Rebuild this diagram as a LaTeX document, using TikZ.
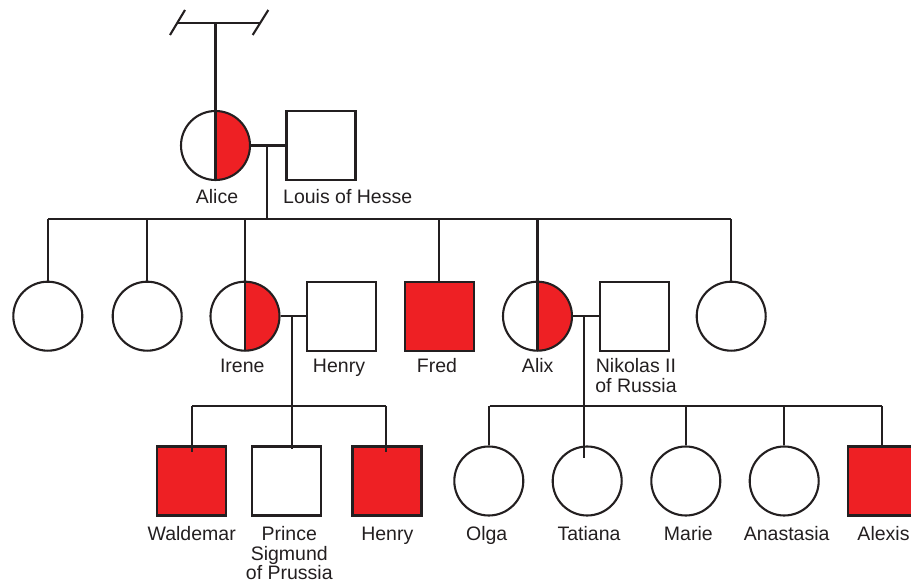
\documentclass[tikz,border=0pt]{standalone}
\usepackage{fontspec}
\setmainfont{Liberation Sans}
\definecolor{ink}{HTML}{231F20}
\definecolor{aff}{HTML}{EE2024}
\begin{document}
\begin{tikzpicture}[x=1pt,y=-1pt,
  fem/.style={circle, draw=ink, fill=white, minimum size=69pt, inner sep=0pt, line width=2.1pt},
  male/.style={rectangle, draw=ink, fill=white, minimum size=69pt, inner sep=0pt, line width=2.1pt},
  affm/.style={male, fill=aff},
  carrier/.style={fem, path picture={
      \fill[aff] (path picture bounding box.north) rectangle (path picture bounding box.south east);
      \draw[ink, line width=2.1pt] (path picture bounding box.north) -- (path picture bounding box.south);}},
  lbl/.style={anchor=base, text=ink, font=\fontsize{19.5}{19.5}\selectfont, inner sep=0pt, align=center},
  link/.style={draw=ink, line width=2.1pt}]
\useasboundingbox (0,0) rectangle (911,585);
\clip (0,0) rectangle (911,585);

% generation I
\node[carrier] (alice) at (215.5,145.5) {};
\node[male] (louis) at (321,145.5) {};
\node[lbl] (lalice) at (217,203.3) {Alice};
\node[lbl] (llouis) at (347.7,203.3) {Louis of Hesse};

% generation II
\node[fem] (s1) at (47.8,316.2) {};
\node[fem] (s2) at (147.2,316.2) {};
\node[carrier] (irene) at (245,316.2) {};
\node[male] (henry) at (341.8,316.2) {};
\node[affm] (fred) at (439.3,316.2) {};
\node[carrier] (alix) at (537.5,316.2) {};
\node[male] (niko) at (634.3,316.2) {};
\node[fem] (s8) at (731.2,316.2) {};
\node[lbl] (lirene) at (242.3,372.7) {Irene};
\node[lbl] (lhenry) at (339,372.7) {Henry};
\node[lbl] (lfred) at (437,372.7) {Fred};
\node[lbl] (lalix) at (537.7,372.7) {Alix};
\node[lbl] (lniko) at (636,392.4) {Nikolas II\\of Russia};

% generation III
\node[affm] (waldemar) at (191.3,481) {};
\node[male] (prince) at (286.7,481) {};
\node[affm] (henryjr) at (387,481) {};
\node[fem] (olga) at (488.8,481) {};
\node[fem] (tatiana) at (587.2,481) {};
\node[fem] (marie) at (685.8,481) {};
\node[fem] (anastasia) at (784.2,481) {};
\node[affm] (alexis) at (882.2,481) {};
\node[lbl] (lwaldemar) at (191.7,540.7) {Waldemar};
\node[lbl] (lprince) at (289.3,579.6) {Prince\\Sigmund\\of Prussia};
\node[lbl] (lhenryjr) at (387.3,540.7) {Henry};
\node[lbl] (lolga) at (486.7,540.7) {Olga};
\node[lbl] (ltatiana) at (589,540.7) {Tatiana};
\node[lbl] (lmarie) at (688.3,540.7) {Marie};
\node[lbl] (lanastasia) at (786.7,540.7) {Anastasia};
\node[lbl] (lalexis) at (883.5,540.7) {Alexis};

% top line of Alice's parents
\coordinate (tl) at (176.7,22.7);
\coordinate (tr) at (260,22.7);
\coordinate (ta) at (215.5,22.7);
\draw[link] (tl) -- (tr);
\draw[link] (170,35) -- (185,10);
\draw[link] (252.7,35) -- (268.3,10);
\draw[link] (ta) -- (alice.north);

% Alice x Louis
\coordinate (m1) at (266.7,145.5);
\coordinate (g2l) at (47.8,219.3);
\coordinate (g2r) at (731.2,219.3);
\coordinate (g2m) at (266.7,219.3);
\draw[link] (alice.east) -- (louis.west);
\draw[link] (m1) -- (g2m);
\draw[link] (g2l) -- (g2r);
\foreach \n in {s1,s2,irene,fred,alix,s8}
  \draw[link] (\n.north |- g2l) -- (\n.north);

% Irene x Henry
\coordinate (m2) at (292,316.2);
\coordinate (m2e) at (292,449.3);
\coordinate (g3l) at (192.3,406);
\coordinate (g3r) at (385.7,406);
\draw[link] (irene.east) -- (henry.west);
\draw[link] (m2) -- (m2e);
\draw[link] (g3l) -- (g3r);
\draw[link] (g3l) -- ([yshift=-7pt]g3l |- waldemar.north);
\draw[link] (g3r) -- ([yshift=-7pt]g3r |- henryjr.north);

% Alix x Nikolas
\coordinate (m3) at (584.3,316.2);
\coordinate (m3e) at (584.3,457.7);
\coordinate (g4l) at (489.5,406);
\coordinate (g4r) at (881.7,406);
\draw[link] (alix.east) -- (niko.west);
\draw[link] (m3) -- (m3e);
\draw[link] (g4l) -- (g4r);
\foreach \n in {olga,marie,anastasia,alexis}
  \draw[link] (\n.north |- g4l) -- (\n.north);
\end{tikzpicture}
\end{document}
